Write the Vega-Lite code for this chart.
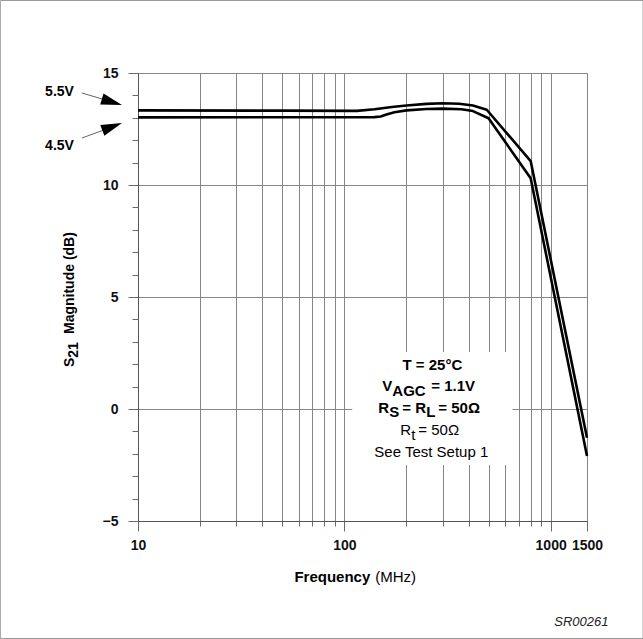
{
  "$schema": "https://vega.github.io/schema/vega-lite/v6.json",
  "width": 449,
  "height": 448,
  "autosize": "none",
  "padding": {"left": 138, "top": 73, "right": 56, "bottom": 118},
  "background": "white",
  "config": {
    "view": {"stroke": null},
    "font": "Liberation Sans",
    "axis": {
      "gridColor": "#858585", "gridWidth": 1, "gridOpacity": 1,
      "tickColor": "#6a6a6a", "tickWidth": 1,
      "domainColor": "#555555", "domainWidth": 1,
      "labelFont": "Liberation Sans", "labelFontWeight": "bold", "labelFontSize": 14, "labelColor": "#111111",
      "title": null
    }
  },
  "datasets": {
    "curves": [
      {"s": "5.5V", "f": 10, "v": 13.33},
      {"s": "5.5V", "f": 50, "v": 13.32},
      {"s": "5.5V", "f": 115, "v": 13.31},
      {"s": "5.5V", "f": 140, "v": 13.38},
      {"s": "5.5V", "f": 170, "v": 13.48},
      {"s": "5.5V", "f": 200, "v": 13.55},
      {"s": "5.5V", "f": 250, "v": 13.62},
      {"s": "5.5V", "f": 300, "v": 13.65},
      {"s": "5.5V", "f": 360, "v": 13.63},
      {"s": "5.5V", "f": 420, "v": 13.55},
      {"s": "5.5V", "f": 490, "v": 13.36},
      {"s": "5.5V", "f": 800, "v": 11.07},
      {"s": "5.5V", "f": 1500, "v": -1.28},
      {"s": "4.5V", "f": 10, "v": 13.02},
      {"s": "4.5V", "f": 140, "v": 13.03},
      {"s": "4.5V", "f": 150, "v": 13.06},
      {"s": "4.5V", "f": 160, "v": 13.15},
      {"s": "4.5V", "f": 175, "v": 13.25},
      {"s": "4.5V", "f": 200, "v": 13.33},
      {"s": "4.5V", "f": 250, "v": 13.39},
      {"s": "4.5V", "f": 300, "v": 13.41},
      {"s": "4.5V", "f": 370, "v": 13.38},
      {"s": "4.5V", "f": 420, "v": 13.3},
      {"s": "4.5V", "f": 500, "v": 12.98},
      {"s": "4.5V", "f": 800, "v": 10.3},
      {"s": "4.5V", "f": 1500, "v": -2.1}
    ],
    "box": [{"f": 109.2, "v": 2.545, "f2": 652.8, "v2": -2.5}],
    "frame": [{"f": 2.152, "v": 18.237, "f2": 2804.7, "v2": -10.246}],
    "c15b": [{"f": 267.0, "v": 1.96, "t": "T = 25°C"}],
    "l15b": [
      {"f": 152.7, "v": 1.03, "t": "V"},
      {"f": 264.0, "v": 1.03, "t": "= 1.1V"},
      {"f": 146.0, "v": 0.04, "t": "R"},
      {"f": 190.9, "v": 0.04, "t": "= R"},
      {"f": 285.5, "v": 0.04, "t": "= 50Ω"}
    ],
    "s15b": [
      {"f": 170.8, "v": 0.8, "t": "AGC"},
      {"f": 165.1, "v": -0.13, "t": "S"},
      {"f": 249.7, "v": -0.13, "t": "L"}
    ],
    "l15n": [
      {"f": 186.7, "v": -0.94, "t": "R"},
      {"f": 211.2, "v": -1.16, "t": "t"},
      {"f": 228.3, "v": -0.94, "t": "= 50Ω"}
    ],
    "c15n": [{"f": 264.0, "v": -1.9, "t": "See Test Setup 1"}],
    "arrowlabels": [
      {"f": 4.892, "v": 14.15, "t": "5.5V"},
      {"f": 4.892, "v": 11.74, "t": "4.5V"}
    ],
    "arrows": [
      {"f": 5.349, "v": 14.107, "f2": 7.8, "v2": 13.66},
      {"f": 5.349, "v": 12.098, "f2": 7.8, "v2": 12.65}
    ],
    "head1": [{"f": 8.363, "v": 13.571}],
    "head2": [{"f": 8.363, "v": 12.768}],
    "ytitle": [
      {"f": 4.678, "v": 1.875, "t": "S"},
      {"f": 4.678, "v": 3.348, "t": "Magnitude (dB)"}
    ],
    "ytitlesub": [{"f": 4.892, "v": 2.29, "t": "21"}],
    "xtb": [{"f": 133.6, "v": -7.5, "t": "Frequency"}],
    "xtn": [{"f": 141.2, "v": -7.5, "t": "(MHz)"}],
    "code": [{"f": 1907, "v": -9.51, "t": "SR00261"}]
  },
  "encoding": {
    "x": {"field": "f", "type": "quantitative", "scale": {"type": "log", "domain": [10, 1500], "nice": false}, "axis": null},
    "y": {"field": "v", "type": "quantitative", "scale": {"domain": [-5, 15], "nice": false, "zero": false}, "axis": null}
  },
  "layer": [
    {
      "data": {"name": "curves"},
      "mark": {"type": "point", "opacity": 0},
      "encoding": {
        "x": {"field": "f", "type": "quantitative", "scale": {"type": "log", "domain": [10, 1500], "nice": false},
          "axis": {"orient": "bottom", "values": [20, 30, 40, 50, 60, 70, 80, 90, 200, 300, 400, 500, 600, 700, 800, 900], "grid": true, "ticks": true, "tickSize": 5, "labels": false, "domain": false}},
        "y": {"field": "v", "type": "quantitative", "scale": {"domain": [-5, 15], "nice": false, "zero": false},
          "axis": {"orient": "left", "values": [-4, -3, -2, -1, 1, 2, 3, 4, 6, 7, 8, 9, 11, 12, 13, 14], "grid": false, "ticks": true, "tickSize": 6, "labels": false, "domain": false}}
      }
    },
    {
      "data": {"name": "curves"},
      "mark": {"type": "line", "color": "black", "strokeWidth": 2.6, "strokeJoin": "round"},
      "encoding": {
        "x": {"field": "f", "type": "quantitative", "scale": {"type": "log", "domain": [10, 1500], "nice": false},
          "axis": {"orient": "bottom", "values": [10, 100, 1000, 1500], "format": "d", "grid": true, "ticks": true, "tickSize": 10, "labelPadding": 7, "labelOverlap": false, "labelFlush": false, "domain": true}},
        "y": {"field": "v", "type": "quantitative", "scale": {"domain": [-5, 15], "nice": false, "zero": false},
          "axis": {"orient": "left", "values": [-5, 0, 5, 10, 15], "grid": true, "ticks": true, "tickSize": 10, "labelPadding": 10, "labelOverlap": false, "labelFlush": false, "domain": true}},
        "detail": {"field": "s"}
      }
    },
    {
      "data": {"name": "box"},
      "mark": {"type": "rect", "fill": "white", "strokeWidth": 0},
      "encoding": {"x2": {"field": "f2"}, "y2": {"field": "v2"}}
    },
    {
      "data": {"name": "frame"},
      "mark": {"type": "rect", "fill": null, "fillOpacity": 0, "stroke": "#9a9a9a", "strokeWidth": 1},
      "encoding": {"x2": {"field": "f2"}, "y2": {"field": "v2"}}
    },
    {
      "data": {"name": "c15b"},
      "mark": {"type": "text", "align": "center", "baseline": "middle", "fontWeight": "bold", "fontSize": 15, "color": "black"},
      "encoding": {"text": {"field": "t"}}
    },
    {
      "data": {"name": "l15b"},
      "mark": {"type": "text", "align": "left", "baseline": "middle", "fontWeight": "bold", "fontSize": 15, "color": "black"},
      "encoding": {"text": {"field": "t"}}
    },
    {
      "data": {"name": "s15b"},
      "mark": {"type": "text", "align": "left", "baseline": "middle", "fontWeight": "bold", "fontSize": 15, "color": "black"},
      "encoding": {"text": {"field": "t"}}
    },
    {
      "data": {"name": "l15n"},
      "mark": {"type": "text", "align": "left", "baseline": "middle", "fontWeight": "normal", "fontSize": 15, "color": "black"},
      "encoding": {"text": {"field": "t"}}
    },
    {
      "data": {"name": "c15n"},
      "mark": {"type": "text", "align": "center", "baseline": "middle", "fontWeight": "normal", "fontSize": 15, "color": "black"},
      "encoding": {"text": {"field": "t"}}
    },
    {
      "data": {"name": "arrowlabels"},
      "mark": {"type": "text", "align": "right", "baseline": "middle", "fontWeight": "bold", "fontSize": 14, "color": "black"},
      "encoding": {"text": {"field": "t"}}
    },
    {
      "data": {"name": "arrows"},
      "mark": {"type": "rule", "color": "#666666", "strokeWidth": 1},
      "encoding": {"x2": {"field": "f2"}, "y2": {"field": "v2"}}
    },
    {
      "data": {"name": "head1"},
      "mark": {"type": "point", "shape": "M0,0L-2,-0.55L-2,0.55Z", "size": 441, "filled": true, "color": "black", "opacity": 1, "angle": 16.7, "strokeWidth": 0}
    },
    {
      "data": {"name": "head2"},
      "mark": {"type": "point", "shape": "M0,0L-2,-0.55L-2,0.55Z", "size": 441, "filled": true, "color": "black", "opacity": 1, "angle": -20.6, "strokeWidth": 0}
    },
    {
      "data": {"name": "ytitle"},
      "mark": {"type": "text", "align": "left", "baseline": "middle", "angle": 270, "fontWeight": "bold", "fontSize": 14, "color": "black"},
      "encoding": {"text": {"field": "t"}}
    },
    {
      "data": {"name": "ytitlesub"},
      "mark": {"type": "text", "align": "left", "baseline": "middle", "angle": 270, "fontWeight": "bold", "fontSize": 14, "color": "black"},
      "encoding": {"text": {"field": "t"}}
    },
    {
      "data": {"name": "xtb"},
      "mark": {"type": "text", "align": "right", "baseline": "middle", "fontWeight": "bold", "fontSize": 15, "color": "black"},
      "encoding": {"text": {"field": "t"}}
    },
    {
      "data": {"name": "xtn"},
      "mark": {"type": "text", "align": "left", "baseline": "middle", "fontWeight": "normal", "fontSize": 15, "color": "black"},
      "encoding": {"text": {"field": "t"}}
    },
    {
      "data": {"name": "code"},
      "mark": {"type": "text", "align": "right", "baseline": "middle", "fontStyle": "italic", "fontSize": 13, "color": "#222222"},
      "encoding": {"text": {"field": "t"}}
    }
  ],
  "resolve": {"axis": {"x": "independent", "y": "independent"}}
}
